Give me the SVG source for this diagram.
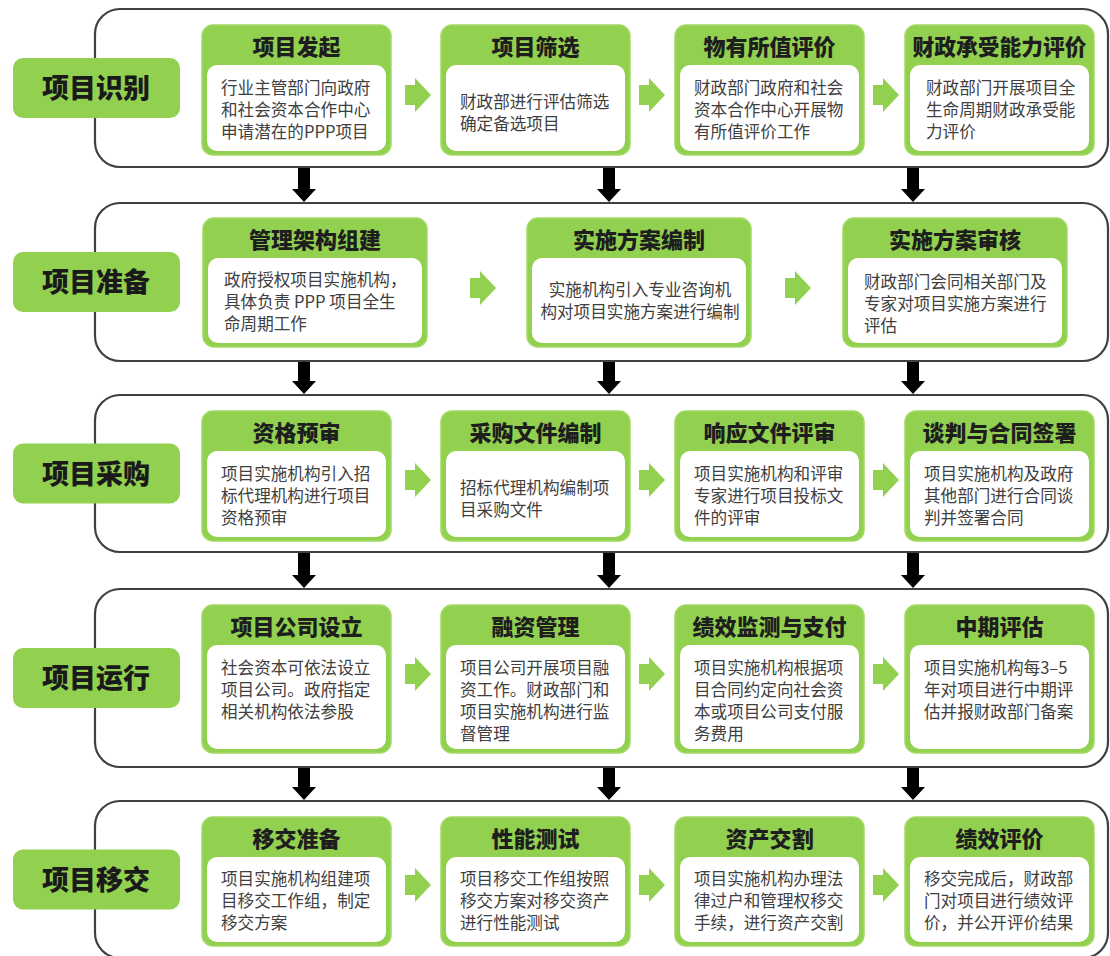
<svg xmlns="http://www.w3.org/2000/svg" width="1110" height="956" viewBox="0 0 1110 956">
<style>
.frame{fill:#ffffff;stroke:#404040;stroke-width:2.2}
.stage{fill:#92d050}
.stxt{font-family:"Noto Sans CJK SC","Noto Sans",sans-serif;font-weight:900;font-size:27px;fill:#1a1a1a;text-anchor:middle}
.card{fill:#92d050;stroke:#a3d965;stroke-width:1.5}
.inner{fill:#ffffff}
.hd{font-family:"Noto Sans CJK SC","Noto Sans",sans-serif;font-weight:900;font-size:22px;fill:#1e1e1e;text-anchor:middle}
.bd{font-family:"Noto Sans CJK SC","Noto Sans",sans-serif;font-size:16.6px;fill:#404040}
.ga{fill:#92d050}
.da{fill:#000000}
</style>
<defs>
<path id="garrow" d="M0,-10 H10 V-17 L26,0 L10,17 V10 H0 Z"/>
</defs>

<g id="stage1">
<rect class="frame" x="95" y="9" width="1013" height="158" rx="25"/>
<rect class="stage" x="13" y="58" width="167" height="60" rx="10"/>
<text class="stxt" x="96" y="98">项目识别</text>
</g>
<g id="stage2">
<rect class="frame" x="95" y="203" width="1013" height="158" rx="25"/>
<rect class="stage" x="13" y="252" width="167" height="60" rx="10"/>
<text class="stxt" x="96" y="292">项目准备</text>
</g>
<g id="stage3">
<rect class="frame" x="95" y="395" width="1013" height="157" rx="25"/>
<rect class="stage" x="13" y="443.5" width="167" height="60" rx="10"/>
<text class="stxt" x="96" y="483.5">项目采购</text>
</g>
<g id="stage4">
<rect class="frame" x="95" y="589" width="1013" height="178" rx="25"/>
<rect class="stage" x="13" y="648" width="167" height="60" rx="10"/>
<text class="stxt" x="96" y="688">项目运行</text>
</g>
<g id="stage5">
<rect class="frame" x="95" y="801" width="1013" height="157" rx="25"/>
<rect class="stage" x="13" y="849.5" width="167" height="60" rx="10"/>
<text class="stxt" x="96" y="889.5">项目移交</text>
</g>

<!-- Row 1 -->
<g id="r1c1">
<rect class="card" x="202" y="25" width="189" height="130" rx="11"/>
<rect class="inner" x="207" y="65" width="179" height="86" rx="10"/>
<text class="hd" x="296.5" y="55">项目发起</text>
<text class="bd"><tspan x="221" y="94">行业主管部门向政府</tspan><tspan x="221" y="116">和社会资本合作中心</tspan><tspan x="221" y="138">申请潜在的PPP项目</tspan></text>
</g>
<g id="r1c2">
<rect class="card" x="441" y="25" width="189" height="130" rx="11"/>
<rect class="inner" x="446" y="65" width="179" height="86" rx="10"/>
<text class="hd" x="535.5" y="55">项目筛选</text>
<text class="bd"><tspan x="460" y="108">财政部进行评估筛选</tspan><tspan x="460" y="130">确定备选项目</tspan></text>
</g>
<g id="r1c3">
<rect class="card" x="675" y="25" width="189" height="130" rx="11"/>
<rect class="inner" x="680" y="65" width="179" height="86" rx="10"/>
<text class="hd" x="769.5" y="55">物有所值评价</text>
<text class="bd"><tspan x="694" y="94">财政部门政府和社会</tspan><tspan x="694" y="116">资本合作中心开展物</tspan><tspan x="694" y="138">有所值评价工作</tspan></text>
</g>
<g id="r1c4">
<rect class="card" x="905" y="25" width="189" height="130" rx="11"/>
<rect class="inner" x="910" y="65" width="179" height="86" rx="10"/>
<text class="hd" x="999.5" y="55" textLength="174" lengthAdjust="spacingAndGlyphs">财政承受能力评价</text>
<text class="bd"><tspan x="926" y="94">财政部门开展项目全</tspan><tspan x="926" y="116">生命周期财政承受能</tspan><tspan x="926" y="138">力评价</tspan></text>
</g>

<!-- Row 2 -->
<g id="r2c1">
<rect class="card" x="203" y="218" width="224" height="129" rx="11"/>
<rect class="inner" x="208" y="258" width="214" height="85" rx="10"/>
<text class="hd" x="315" y="248">管理架构组建</text>
<text class="bd"><tspan x="224" y="286">政府授权项目实施机构，</tspan><tspan x="224" y="308">具体负责 PPP 项目全生</tspan><tspan x="224" y="330">命周期工作</tspan></text>
</g>
<g id="r2c2">
<rect class="card" x="527" y="218" width="224" height="129" rx="11"/>
<rect class="inner" x="532" y="258" width="214" height="85" rx="10"/>
<text class="hd" x="639" y="248">实施方案编制</text>
<text class="bd" text-anchor="middle"><tspan x="640" y="296">实施机构引入专业咨询机</tspan><tspan x="640" y="318">构对项目实施方案进行编制</tspan></text>
</g>
<g id="r2c3">
<rect class="card" x="843" y="218" width="224" height="129" rx="11"/>
<rect class="inner" x="848" y="258" width="214" height="85" rx="10"/>
<text class="hd" x="955" y="248">实施方案审核</text>
<text class="bd"><tspan x="864" y="288">财政部门会同相关部门及</tspan><tspan x="864" y="310">专家对项目实施方案进行</tspan><tspan x="864" y="332">评估</tspan></text>
</g>

<!-- Row 3 -->
<g id="r3c1">
<rect class="card" x="202" y="411" width="189" height="130" rx="11"/>
<rect class="inner" x="207" y="451" width="179" height="86" rx="10"/>
<text class="hd" x="296.5" y="441">资格预审</text>
<text class="bd"><tspan x="221" y="480">项目实施机构引入招</tspan><tspan x="221" y="502">标代理机构进行项目</tspan><tspan x="221" y="524">资格预审</tspan></text>
</g>
<g id="r3c2">
<rect class="card" x="441" y="411" width="189" height="130" rx="11"/>
<rect class="inner" x="446" y="451" width="179" height="86" rx="10"/>
<text class="hd" x="535.5" y="441">采购文件编制</text>
<text class="bd"><tspan x="460" y="494">招标代理机构编制项</tspan><tspan x="460" y="516">目采购文件</tspan></text>
</g>
<g id="r3c3">
<rect class="card" x="675" y="411" width="189" height="130" rx="11"/>
<rect class="inner" x="680" y="451" width="179" height="86" rx="10"/>
<text class="hd" x="769.5" y="441">响应文件评审</text>
<text class="bd"><tspan x="694" y="480">项目实施机构和评审</tspan><tspan x="694" y="502">专家进行项目投标文</tspan><tspan x="694" y="524">件的评审</tspan></text>
</g>
<g id="r3c4">
<rect class="card" x="905" y="411" width="189" height="130" rx="11"/>
<rect class="inner" x="910" y="451" width="179" height="86" rx="10"/>
<text class="hd" x="999.5" y="441">谈判与合同签署</text>
<text class="bd"><tspan x="924" y="480">项目实施机构及政府</tspan><tspan x="924" y="502">其他部门进行合同谈</tspan><tspan x="924" y="524">判并签署合同</tspan></text>
</g>

<!-- Row 4 -->
<g id="r4c1">
<rect class="card" x="202" y="605" width="189" height="148" rx="11"/>
<rect class="inner" x="207" y="645" width="179" height="104" rx="10"/>
<text class="hd" x="296.5" y="635">项目公司设立</text>
<text class="bd"><tspan x="221" y="674">社会资本可依法设立</tspan><tspan x="221" y="696">项目公司。政府指定</tspan><tspan x="221" y="718">相关机构依法参股</tspan></text>
</g>
<g id="r4c2">
<rect class="card" x="441" y="605" width="189" height="148" rx="11"/>
<rect class="inner" x="446" y="645" width="179" height="104" rx="10"/>
<text class="hd" x="535.5" y="635">融资管理</text>
<text class="bd"><tspan x="460" y="674">项目公司开展项目融</tspan><tspan x="460" y="696">资工作。财政部门和</tspan><tspan x="460" y="718">项目实施机构进行监</tspan><tspan x="460" y="740">督管理</tspan></text>
</g>
<g id="r4c3">
<rect class="card" x="675" y="605" width="189" height="148" rx="11"/>
<rect class="inner" x="680" y="645" width="179" height="104" rx="10"/>
<text class="hd" x="769.5" y="635">绩效监测与支付</text>
<text class="bd"><tspan x="694" y="674">项目实施机构根据项</tspan><tspan x="694" y="696">目合同约定向社会资</tspan><tspan x="694" y="718">本或项目公司支付服</tspan><tspan x="694" y="740">务费用</tspan></text>
</g>
<g id="r4c4">
<rect class="card" x="905" y="605" width="189" height="148" rx="11"/>
<rect class="inner" x="910" y="645" width="179" height="104" rx="10"/>
<text class="hd" x="999.5" y="635">中期评估</text>
<text class="bd"><tspan x="924" y="674">项目实施机构每3–5</tspan><tspan x="924" y="696">年对项目进行中期评</tspan><tspan x="924" y="718">估并报财政部门备案</tspan></text>
</g>

<!-- Row 5 -->
<g id="r5c1">
<rect class="card" x="202" y="817" width="189" height="129" rx="11"/>
<rect class="inner" x="207" y="857" width="179" height="85" rx="10"/>
<text class="hd" x="296.5" y="847">移交准备</text>
<text class="bd"><tspan x="221" y="885">项目实施机构组建项</tspan><tspan x="221" y="907">目移交工作组，制定</tspan><tspan x="221" y="929">移交方案</tspan></text>
</g>
<g id="r5c2">
<rect class="card" x="441" y="817" width="189" height="129" rx="11"/>
<rect class="inner" x="446" y="857" width="179" height="85" rx="10"/>
<text class="hd" x="535.5" y="847">性能测试</text>
<text class="bd"><tspan x="460" y="885">项目移交工作组按照</tspan><tspan x="460" y="907">移交方案对移交资产</tspan><tspan x="460" y="929">进行性能测试</tspan></text>
</g>
<g id="r5c3">
<rect class="card" x="675" y="817" width="189" height="129" rx="11"/>
<rect class="inner" x="680" y="857" width="179" height="85" rx="10"/>
<text class="hd" x="769.5" y="847">资产交割</text>
<text class="bd"><tspan x="694" y="885">项目实施机构办理法</tspan><tspan x="694" y="907">律过户和管理权移交</tspan><tspan x="694" y="929">手续，进行资产交割</tspan></text>
</g>
<g id="r5c4">
<rect class="card" x="905" y="817" width="189" height="129" rx="11"/>
<rect class="inner" x="910" y="857" width="179" height="85" rx="10"/>
<text class="hd" x="999.5" y="847">绩效评价</text>
<text class="bd"><tspan x="924" y="885">移交完成后，财政部</tspan><tspan x="924" y="907">门对项目进行绩效评</tspan><tspan x="924" y="929">价，并公开评价结果</tspan></text>
</g>

<g id="connectors">
<use href="#garrow" class="ga" transform="translate(405,95)"/>
<use href="#garrow" class="ga" transform="translate(639,95)"/>
<use href="#garrow" class="ga" transform="translate(873,95)"/>
<use href="#garrow" class="ga" transform="translate(470,288)"/>
<use href="#garrow" class="ga" transform="translate(785,288)"/>
<use href="#garrow" class="ga" transform="translate(405,480)"/>
<use href="#garrow" class="ga" transform="translate(639,480)"/>
<use href="#garrow" class="ga" transform="translate(873,480)"/>
<use href="#garrow" class="ga" transform="translate(405,674)"/>
<use href="#garrow" class="ga" transform="translate(639,674)"/>
<use href="#garrow" class="ga" transform="translate(873,674)"/>
<use href="#garrow" class="ga" transform="translate(405,885)"/>
<use href="#garrow" class="ga" transform="translate(639,885)"/>
<use href="#garrow" class="ga" transform="translate(873,885)"/>

<polygon class="da" points="298,168 310,168 310,189 316,189 304,202 292,189 298,189"/>
<polygon class="da" points="603,168 615,168 615,189 621,189 609,202 597,189 603,189"/>
<polygon class="da" points="907,168 919,168 919,189 925,189 913,202 901,189 907,189"/>
<polygon class="da" points="298,362 310,362 310,381 316,381 304,394 292,381 298,381"/>
<polygon class="da" points="603,362 615,362 615,381 621,381 609,394 597,381 603,381"/>
<polygon class="da" points="907,362 919,362 919,381 925,381 913,394 901,381 907,381"/>
<polygon class="da" points="298,553 310,553 310,575 316,575 304,588 292,575 298,575"/>
<polygon class="da" points="603,553 615,553 615,575 621,575 609,588 597,575 603,575"/>
<polygon class="da" points="907,553 919,553 919,575 925,575 913,588 901,575 907,575"/>
<polygon class="da" points="298,768 310,768 310,787 316,787 304,800 292,787 298,787"/>
<polygon class="da" points="603,768 615,768 615,787 621,787 609,800 597,787 603,787"/>
<polygon class="da" points="907,768 919,768 919,787 925,787 913,800 901,787 907,787"/>
</g>
</svg>
